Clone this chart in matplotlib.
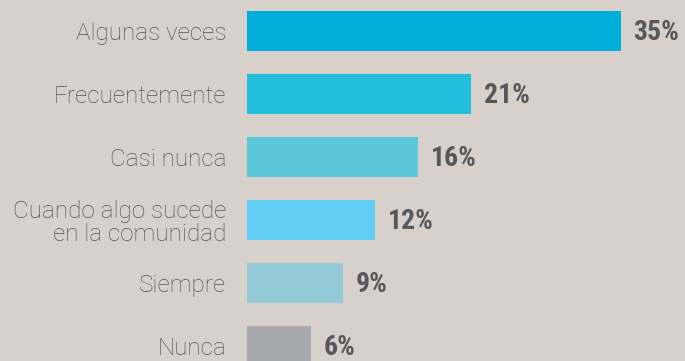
import matplotlib
matplotlib.use("Agg")
import matplotlib.pyplot as plt

categories = ["Algunas veces", "Frecuentemente", "Casi nunca",
              "Cuando algo sucede\nen la comunidad", "Siempre", "Nunca"]
values = [35, 21, 16, 12, 9, 6]
value_labels = ["35%", "21%", "16%", "12%", "9%", "6%"]
colors = ["#00AED9", "#24BEDD", "#5BC8D9", "#62CDF5", "#93C8D6", "#A7A9AC"]

bg = "#D8D1CB"
text_color = "#545454"
value_color = "#55595C"

fig = plt.figure(figsize=(6.85, 3.61), dpi=100, facecolor=bg)
ax = fig.add_axes([247 / 685, 0, 438 / 685, 1])
ax.set_facecolor(bg)

pos = list(range(len(categories)))
ax.barh(pos, values, height=0.65, color=colors)

ax.set_xlim(0, 35 * 438 / 374)
ax.set_ylim(5.238, -0.492)

ax.set_yticks(pos)
ax.set_yticklabels(categories, fontfamily="Roboto", fontweight="light",
                   fontsize=17.5, color=text_color, linespacing=1.0)
ax.tick_params(axis="y", length=0, pad=15)
ax.set_xticks([])
for s in ax.spines.values():
    s.set_visible(False)

for p, v, lab in zip(pos, values, value_labels):
    ax.annotate(lab, xy=(v, p), xytext=(9, -1), textcoords="offset points",
                ha="left", va="center", fontsize=20, fontweight="bold",
                fontfamily="Roboto Condensed", color=value_color)

fig.savefig("out.png", dpi=100, facecolor=bg)
